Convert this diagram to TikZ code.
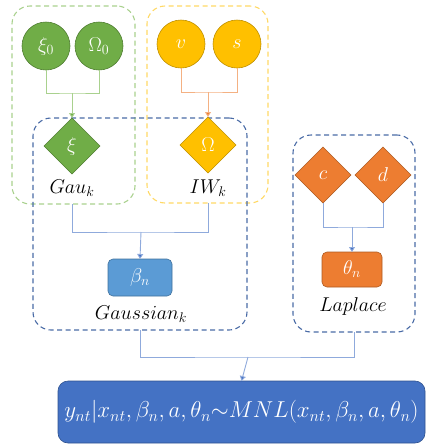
\RequirePackage{fix-cm}
\documentclass[tikz,border=0pt]{standalone}
\usetikzlibrary{shapes.geometric,arrows.meta,fit}

\definecolor{grnfill}{HTML}{70AD47}
\definecolor{grnline}{HTML}{507E32}
\definecolor{grndash}{HTML}{A9D18E}
\definecolor{ylwfill}{HTML}{FFC000}
\definecolor{ylwline}{HTML}{BF9000}
\definecolor{ylwdash}{HTML}{FFD966}
\definecolor{orgfill}{HTML}{ED7D31}
\definecolor{orgline}{HTML}{AE5A21}
\definecolor{orgconn}{HTML}{F4B183}
\definecolor{bludash}{HTML}{4A6BA6}
\definecolor{bluconn}{HTML}{8FAADC}
\definecolor{bluhead}{HTML}{4472C4}
\definecolor{betafill}{HTML}{5B9BD5}
\definecolor{betaline}{HTML}{41719C}
\definecolor{mnlfill}{HTML}{4472C4}
\definecolor{mnlline}{HTML}{2F528F}

\tikzset{
  every node/.style={inner sep=0pt, outer sep=0pt},
  hyper/.style={circle, minimum size=48pt, fill=#1fill, draw=#1line, line width=0.6pt,
    text=white, font=\fontsize{20}{24}\selectfont},
  prior/.style={diamond, aspect=1, minimum size=56pt, fill=#1fill, draw=#1line, line width=0.6pt,
    text=white, font=\fontsize{20}{24}\selectfont},
  param/.style={rounded corners=5pt, fill=#1fill, draw=#1line, line width=0.6pt,
    text=white, font=\fontsize{20}{24}\selectfont},
  group/.style={draw=#1, dashed, dash pattern=on 5pt off 3.5pt, line width=1.1pt,
    rounded corners=18pt},
  tag/.style={font=\fontsize{20}{24}\selectfont},
  conn/.style={draw=#1, line width=0.9pt},
  tip/.style={-{Triangle[width=6pt,length=5pt,fill=#1]}},
}

\begin{document}
\begin{tikzpicture}[x=1pt, y=-1pt]
\useasboundingbox (0,0) rectangle (427,445);

% dashed group frames
\node[group=grndash, fit={(12,6) (135,204)}] (gbox) {};
\node[group=ylwdash, fit={(147,6) (268,203)}] (ybox) {};
\node[group=bludash, fit={(33,118) (247,330)}] (gauss) {};
\node[group=bludash, fit={(293,135) (415,332)}] (lap) {};

% hyperparameters
\node[hyper=grn] (xi0) at (46,46) {$\xi_0$};
\node[hyper=grn] (om0) at (99,46) {$\Omega_0$};
\node[hyper=ylw] (nu) at (181,44) {$v$};
\node[hyper=ylw] (s) at (237,44) {$s$};

% priors
\node[prior=grn] (xi) at (72,146) {$\xi$};
\node[prior=ylw] (om) at (208,145) {$\Omega$};
\node[prior=org] (c) at (323,175) {$c$};
\node[prior=org] (d) at (383,175) {$d$};

% parameters
\node[param=beta, minimum width=64pt, minimum height=37pt] (beta) at (140,277.5) {$\beta_n$};
\node[param=org, minimum width=60pt, minimum height=35pt] (theta) at (352,269.5) {$\theta_n$};

% labels
\node[tag] (gaul) at (72,188) {$Gau_k$};
\node[tag] (iwl) at (208,188) {$IW_k$};
\node[tag] (gsl) at (141,314) {$Gaussian_k$};
\node[tag] (lpl) at (353,306) {$Laplace$};

% likelihood
\node[fill=mnlfill, draw=mnlline, line width=0.6pt, rounded corners=10pt,
  minimum width=367pt, minimum height=62pt, text=white,
  font=\fontsize{23}{27}\selectfont] (mnl) at (241.5,412)
  {$y_{nt}|x_{nt},\beta_n,a,\theta_n{\sim}MNL(x_{nt},\beta_n,a,\theta_n)$};

% junction points
\coordinate (jg) at (72,93);
\coordinate (jy) at (208,92);
\coordinate (jb) at (141,232);
\coordinate (jl) at (352,227);
\coordinate (jm) at (248,357);

% connectors
\draw[conn=grndash] (xi0.south) |- (jg) -| (om0.south);
\draw[conn=grndash, tip=grnfill] (jg) -- (xi.north);
\draw[conn=orgconn] (nu.south) |- (jy) -| (s.south);
\draw[conn=orgconn, tip=orgfill] (jy) -- (om.north);

\draw[conn=bluconn] (xi |- gbox.south) |- (jb) -| (om |- ybox.south);
\draw[conn=bluconn, tip=bluhead] (jb) -- (beta.north);
\draw[conn=bluconn] (c.south) |- (jl) -| (d.south);
\draw[conn=bluconn, tip=bluhead] (jl) -- (theta.north);

\draw[conn=bluconn] (gauss.south) |- (jm) -| (lap.south);
\draw[conn=bluconn, tip=bluhead] (jm) -- (mnl.north);
\end{tikzpicture}
\end{document}
